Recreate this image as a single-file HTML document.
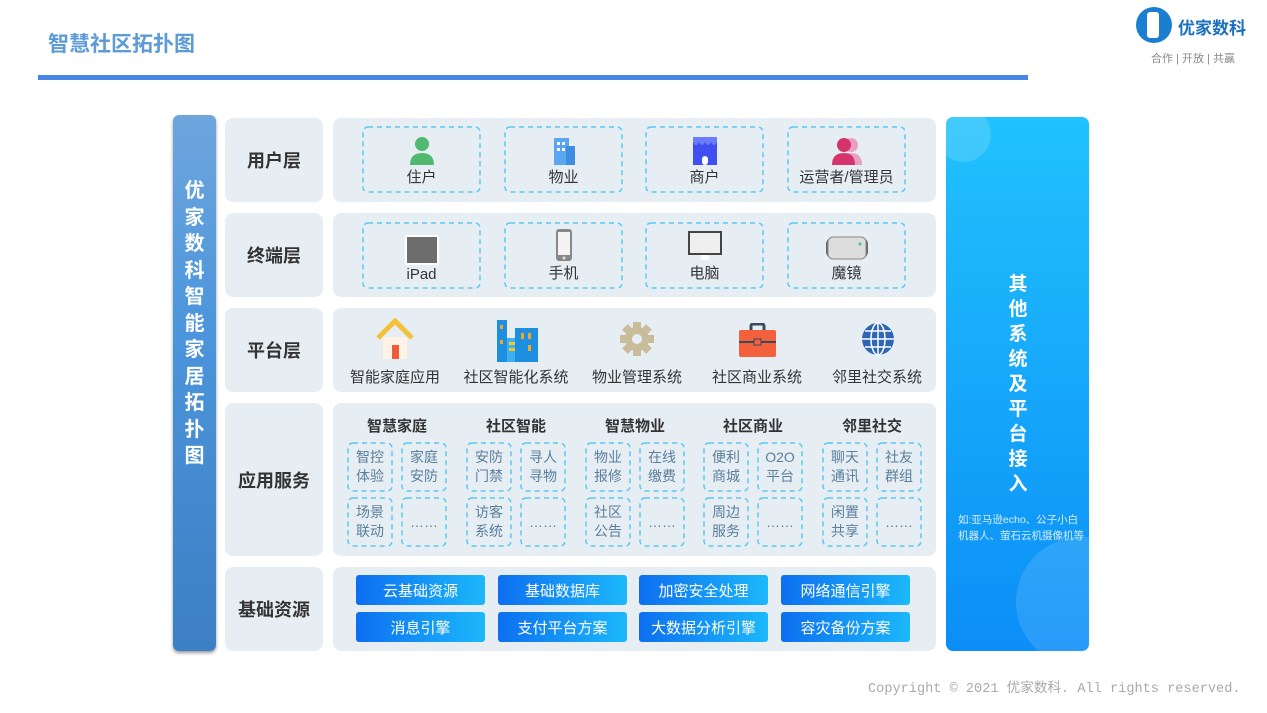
<!DOCTYPE html>
<html><head><meta charset="utf-8"><style>
*{margin:0;padding:0;box-sizing:border-box}
body{width:1267px;height:713px;background:#fff;position:relative;overflow:hidden;font-family:"Liberation Sans","Noto Sans CJK SC",sans-serif;color:#333}
.a{position:absolute}
.p{position:absolute;background:#e6eef4;border-radius:8px}
.lab{position:absolute;display:flex;align-items:center;justify-content:center;font-size:18px;font-weight:bold;color:#333;background:#e6eef4;border-radius:8px}
.db{position:absolute;border-radius:6px;display:flex;flex-direction:column;align-items:center;justify-content:flex-end;padding-bottom:6px;font-size:15px;color:#333}
.sb{position:absolute;width:46px;height:50px;border-radius:5px;display:flex;align-items:center;justify-content:center;text-align:center;font-size:14px;line-height:19px;color:#5a7f9c}
.db,.sb{background-image:url("data:image/svg+xml,%3Csvg xmlns='http://www.w3.org/2000/svg' width='100%25' height='100%25'%3E%3Crect x='1' y='1' width='calc(100%25 - 2px)' height='calc(100%25 - 2px)' rx='5' fill='none' stroke='%235ac8f0' stroke-width='1.5' stroke-dasharray='5 4'/%3E%3C/svg%3E")}
.gh{position:absolute;width:100px;text-align:center;font-size:15px;font-weight:bold;color:#333}
.bt{position:absolute;width:129px;height:30px;border-radius:3px;background:linear-gradient(90deg,#0d6ff0,#1cb8fb);color:#fff;font-size:15px;display:flex;align-items:center;justify-content:center}
.pi{position:absolute;width:120px;text-align:center;font-size:15px;color:#333;top:366px}
</style></head><body>
<div class="a" style="left:48px;top:28px;font-size:21px;font-weight:bold;color:#5d9ad8">智慧社区拓扑图</div>
<div class="a" style="left:38px;top:75px;width:990px;height:5px;background:#4a86e8"></div>
<div class="a" style="left:1136px;top:7px;width:36px;height:36px;border-radius:50%;background:#1a7fd0"></div>
<div class="a" style="left:1147px;top:12px;width:12px;height:26px;background:#fff;border-radius:3px"></div>
<div class="a" style="left:1178px;top:14px;font-size:17px;color:#1a6fbf;font-weight:bold">优家数科</div>
<div class="a" style="left:1151px;top:50px;font-size:11px;color:#888">合作 | 开放 | 共赢</div>

<div class="a" style="left:173px;top:115px;width:43px;height:536px;border-radius:6px;background:linear-gradient(#6ea6dd,#4c95dc 40%,#3c7fc4);box-shadow:0 2px 3px #999"></div>
<div class="a" style="left:173px;top:178px;width:43px;text-align:center;color:#fff;font-size:20px;font-weight:bold;line-height:26.5px">优<br>家<br>数<br>科<br>智<br>能<br>家<br>居<br>拓<br>扑<br>图</div>

<div class="lab" style="left:225px;top:118px;width:98px;height:84px">用户层</div>
<div class="lab" style="left:225px;top:213px;width:98px;height:84px">终端层</div>
<div class="lab" style="left:225px;top:308px;width:98px;height:84px">平台层</div>
<div class="lab" style="left:225px;top:403px;width:98px;height:153px">应用服务</div>
<div class="lab" style="left:225px;top:567px;width:98px;height:84px">基础资源</div>

<div class="p" style="left:333px;top:118px;width:603px;height:84px"></div>
<div class="p" style="left:333px;top:213px;width:603px;height:84px"></div>
<div class="p" style="left:333px;top:308px;width:603px;height:84px"></div>
<div class="p" style="left:333px;top:403px;width:603px;height:153px"></div>
<div class="p" style="left:333px;top:567px;width:603px;height:84px"></div>

<div class="db" style="left:362px;top:126px;width:119px;height:67px"><svg width="26" height="30" viewBox="0 0 26 30"><circle cx="13" cy="8" r="7" fill="#4fba6f"/><path d="M1 29 Q1 17 13 17 Q25 17 25 29Z" fill="#4fba6f"/></svg>住户</div>
<div class="db" style="left:504px;top:126px;width:119px;height:67px"><svg width="26" height="30"><rect x="3" y="2" width="15" height="27" fill="#5aa6f0"/><rect x="15" y="10" width="9" height="19" fill="#3d8ee0"/><rect x="6" y="6" width="3" height="3" fill="#fff"/><rect x="11" y="6" width="3" height="3" fill="#fff"/><rect x="6" y="12" width="3" height="3" fill="#fff"/><rect x="11" y="12" width="3" height="3" fill="#fff"/></svg>物业</div>
<div class="db" style="left:645px;top:126px;width:119px;height:67px"><svg width="26" height="30"><rect x="1" y="1" width="24" height="28" fill="#3f4ff0"/><path d="M1 6 Q4 12 7 6 Q10 12 13 6 Q16 12 19 6 Q22 12 25 6V1H1Z" fill="#6b7cff"/><rect x="10" y="20" width="6" height="9" rx="3" fill="#fff"/></svg>商户</div>
<div class="db" style="left:787px;top:126px;width:119px;height:67px"><svg width="32" height="30"><circle cx="20" cy="9" r="7" fill="#e8a0c0"/><path d="M8 29 Q8 17 20 17 Q31 17 31 29Z" fill="#e8a0c0"/><circle cx="13" cy="9" r="7" fill="#d6336c"/><path d="M1 29 Q1 17 13 17 Q24 17 24 29Z" fill="#d6336c"/></svg>运营者/管理员</div>

<div class="db" style="left:362px;top:222px;width:119px;height:67px"><svg width="36" height="32"><rect x="1" y="1" width="34" height="30" fill="#fff"/><rect x="3" y="3" width="30" height="26" fill="#6d6d6d"/></svg>iPad</div>
<div class="db" style="left:504px;top:222px;width:119px;height:67px"><svg width="18" height="34"><rect x="1" y="1" width="16" height="32" rx="3" fill="#888"/><rect x="3" y="4" width="12" height="23" fill="#f4f4f4"/><circle cx="9" cy="30" r="1.5" fill="#ddd"/></svg>手机</div>
<div class="db" style="left:645px;top:222px;width:119px;height:67px"><svg width="36" height="32"><rect x="1" y="1" width="34" height="24" fill="#444"/><rect x="3" y="3" width="30" height="20" fill="#eee"/><rect x="14" y="25" width="8" height="5" fill="#fff"/></svg>电脑</div>
<div class="db" style="left:787px;top:222px;width:119px;height:67px"><svg width="46" height="30"><rect x="2" y="6" width="42" height="20" rx="6" fill="#666"/><rect x="4" y="5" width="38" height="22" rx="5" fill="#ddd" stroke="#888"/><circle cx="36" cy="12" r="1.5" fill="#3c9"/></svg>魔镜</div>

<svg class="a" style="left:376px;top:318px" width="38" height="42"><path d="M2 20 L19 3 L36 20" stroke="#f3c13a" stroke-width="5" fill="none"/><rect x="7" y="19" width="24" height="22" fill="#fdf3e6"/><rect x="16" y="27" width="7" height="14" fill="#f05a3c"/></svg>
<svg class="a" style="left:497px;top:320px" width="42" height="42"><rect x="0" y="0" width="10" height="42" fill="#1e8fe0"/><rect x="10" y="18" width="8" height="24" fill="#3db0f0"/><rect x="18" y="8" width="23" height="34" fill="#1e8fe0"/><rect x="3" y="5" width="3" height="4" fill="#f5a623"/><rect x="3" y="20" width="3" height="4" fill="#f5a623"/><rect x="12" y="22" width="6" height="3" fill="#f5c723"/><rect x="12" y="28" width="6" height="3" fill="#f5c723"/><rect x="24" y="13" width="3" height="6" fill="#f5a623"/><rect x="31" y="13" width="3" height="6" fill="#f5a623"/><rect x="31" y="25" width="3" height="6" fill="#f5a623"/></svg>
<svg class="a" style="left:619px;top:321px" width="36" height="36"><g fill="#c9bc9a" transform="translate(18 18)"><rect x="-4" y="-17" width="8" height="34"/><rect x="-4" y="-17" width="8" height="34" transform="rotate(45)"/><rect x="-4" y="-17" width="8" height="34" transform="rotate(90)"/><rect x="-4" y="-17" width="8" height="34" transform="rotate(135)"/><circle r="12"/></g><circle cx="18" cy="18" r="5" fill="#e6eef4"/></svg>
<svg class="a" style="left:739px;top:323px" width="37" height="34"><rect x="12" y="1" width="13" height="8" rx="2" fill="none" stroke="#3b4a5c" stroke-width="3"/><rect x="0" y="7" width="37" height="27" rx="2" fill="#f2603c"/><rect x="0" y="18" width="37" height="2" fill="#3b4a5c"/><rect x="15" y="16" width="7" height="6" fill="#f2603c" stroke="#3b4a5c"/></svg>
<svg class="a" style="left:861px;top:322px" width="34" height="34"><circle cx="17" cy="17" r="16" fill="#2f66b4"/><g stroke="#fff" stroke-width="1.5" fill="none"><ellipse cx="17" cy="17" rx="7" ry="16"/><line x1="17" y1="1" x2="17" y2="33"/><line x1="1" y1="17" x2="33" y2="17"/><line x1="4" y1="9" x2="30" y2="9"/><line x1="4" y1="25" x2="30" y2="25"/></g></svg>
<div class="pi" style="left:335px">智能家庭应用</div>
<div class="pi" style="left:456px">社区智能化系统</div>
<div class="pi" style="left:577px">物业管理系统</div>
<div class="pi" style="left:697px">社区商业系统</div>
<div class="pi" style="left:817px">邻里社交系统</div>

<div class="gh" style="left:347px;top:415px">智慧家庭</div>
<div class="gh" style="left:466px;top:415px">社区智能</div>
<div class="gh" style="left:585px;top:415px">智慧物业</div>
<div class="gh" style="left:703px;top:415px">社区商业</div>
<div class="gh" style="left:822px;top:415px">邻里社交</div>
<div class="sb" style="left:347px;top:442px">智控<br>体验</div><div class="sb" style="left:401px;top:442px">家庭<br>安防</div>
<div class="sb" style="left:347px;top:497px">场景<br>联动</div><div class="sb" style="left:401px;top:497px">……</div>
<div class="sb" style="left:466px;top:442px">安防<br>门禁</div><div class="sb" style="left:520px;top:442px">寻人<br>寻物</div>
<div class="sb" style="left:466px;top:497px">访客<br>系统</div><div class="sb" style="left:520px;top:497px">……</div>
<div class="sb" style="left:585px;top:442px">物业<br>报修</div><div class="sb" style="left:639px;top:442px">在线<br>缴费</div>
<div class="sb" style="left:585px;top:497px">社区<br>公告</div><div class="sb" style="left:639px;top:497px">……</div>
<div class="sb" style="left:703px;top:442px">便利<br>商城</div><div class="sb" style="left:757px;top:442px">O2O<br>平台</div>
<div class="sb" style="left:703px;top:497px">周边<br>服务</div><div class="sb" style="left:757px;top:497px">……</div>
<div class="sb" style="left:822px;top:442px">聊天<br>通讯</div><div class="sb" style="left:876px;top:442px">社友<br>群组</div>
<div class="sb" style="left:822px;top:497px">闲置<br>共享</div><div class="sb" style="left:876px;top:497px">……</div>

<div class="bt" style="left:356px;top:575px">云基础资源</div>
<div class="bt" style="left:498px;top:575px">基础数据库</div>
<div class="bt" style="left:639px;top:575px">加密安全处理</div>
<div class="bt" style="left:781px;top:575px">网络通信引擎</div>
<div class="bt" style="left:356px;top:612px">消息引擎</div>
<div class="bt" style="left:498px;top:612px">支付平台方案</div>
<div class="bt" style="left:639px;top:612px">大数据分析引擎</div>
<div class="bt" style="left:781px;top:612px">容灾备份方案</div>

<div class="a" style="left:946px;top:117px;width:143px;height:534px;border-radius:7px;background:linear-gradient(#21c2fd,#0b8ef7);overflow:hidden">
<div class="a" style="left:-10px;top:-10px;width:55px;height:55px;border-radius:50%;background:rgba(255,255,255,.15)"></div>
<div class="a" style="left:70px;top:420px;width:130px;height:130px;border-radius:50%;background:rgba(255,255,255,.12)"></div>
<div class="a" style="left:60px;top:155px;width:24px;text-align:center;color:#fff;font-size:19px;font-weight:bold;line-height:25px">其<br>他<br>系<br>统<br>及<br>平<br>台<br>接<br>入</div>
<div class="a" style="left:12px;top:395px;color:#d6ecff;font-size:10.5px;line-height:16px;white-space:nowrap">如:亚马逊echo、公子小白<br>机器人、萤石云机摄像机等</div>
</div>

<div class="a" style="left:868px;top:676px;font-family:'Liberation Mono','Noto Sans CJK SC',monospace;font-size:13.6px;color:#aaa;white-space:nowrap">Copyright © 2021 优家数科. All rights reserved.</div>
</body></html>
